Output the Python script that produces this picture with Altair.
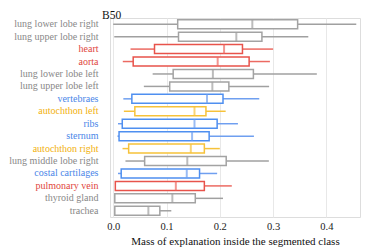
import altair as alt
import pandas as pd

names = ["lung lower lobe right", "lung upper lobe right", "heart", "aorta",
         "lung lower lobe left", "lung upper lobe left", "vertebraes", "autochthon left",
         "ribs", "sternum", "autochthon right", "lung middle lobe right",
         "costal cartilages", "pulmonary vein", "thyroid gland", "trachea"]
groups = ["gray", "gray", "red", "red", "gray", "gray", "blue", "yellow",
          "blue", "blue", "yellow", "gray", "blue", "red", "gray", "gray"]
low = [0.000, 0.002, 0.0325, 0.018, 0.074, 0.0575, 0.019, 0.020,
       0.009, 0.008, 0.0175, 0.023, 0.009, 0.004, 0.003, 0.003]
q1 = [0.121, 0.1225, 0.0775, 0.0375, 0.1125, 0.106, 0.035, 0.0406,
      0.017, 0.011, 0.029, 0.059, 0.015, 0.004, 0.003, 0.003]
med = [0.261, 0.231, 0.208, 0.196, 0.187, 0.186, 0.176, 0.1525,
       0.1525, 0.148, 0.1456, 0.139, 0.138, 0.1175, 0.111, 0.066]
q3 = [0.346, 0.279, 0.2425, 0.255, 0.263, 0.217, 0.206, 0.174,
      0.195, 0.180, 0.171, 0.212, 0.162, 0.171, 0.154, 0.0875]
high = [0.456, 0.366, 0.300, 0.294, 0.382, 0.2925, 0.274, 0.211,
        0.234, 0.264, 0.200, 0.292, 0.195, 0.2225, 0.206, 0.109]
grid_vals = [0.0, 0.05, 0.1, 0.15, 0.2, 0.25, 0.3, 0.35, 0.4, 0.45]

df = pd.DataFrame({"name": names, "group": groups, "low": low, "q1": q1,
                   "med": med, "q3": q3, "high": high})

grp_dom = ["gray", "red", "blue", "yellow"]
box_col = ["#a3a3a3", "#e8534b", "#4f8ff0", "#f6c23a"]
whisk_col = ["#a0a0a0", "#ec6a62", "#6f9ff0", "#f6c23a"]
med_col = ["#8a8a8a", "#d93a33", "#3a7be6", "#eeb414"]
lab_col = {"red": "#e0463d", "blue": "#4a86e8", "yellow": "#f2b10e"}

FONT = "Liberation Serif, DejaVu Serif, serif"

def test_for(g):
    lst = ",".join("'" + n + "'" for n, gg in zip(names, groups) if gg == g)
    return f"indexof([{lst}], datum.value) >= 0"

label_color = {
    "condition": [{"test": test_for(g), "value": c} for g, c in lab_col.items()],
    "value": "#888888",
}

yenc = alt.Y("name:N", sort=names, title=None,
             scale=alt.Scale(paddingInner=0, paddingOuter=0),
             axis=alt.Axis(ticks=False, domain=False, grid=False, labelFont=FONT,
                           labelFontSize=10, labelPadding=12, labelColor=label_color,
                           labelLimit=200))
xscale = alt.Scale(domain=[-0.006, 0.463], nice=False, zero=False)
xenc = alt.X("low:Q", scale=xscale, title="Mass of explanation inside the segmented class",
             axis=alt.Axis(values=grid_vals, ticks=False, domain=False, gridColor="#e8e8e8",
                           labelExpr="abs(datum.value*10 - round(datum.value*10)) < 0.001 ? format(datum.value, '.1f') : ''",
                           labelFont=FONT, labelFontSize=10.5, labelColor="#222222",
                           labelPadding=4, titleFont=FONT, titleFontSize=11,
                           titleFontWeight="normal", titleColor="#111111", titlePadding=4))

base = alt.Chart(df)
wcol = alt.Color("group:N", scale=alt.Scale(domain=grp_dom, range=whisk_col), legend=None)
bcol = alt.Color("group:N", scale=alt.Scale(domain=grp_dom, range=box_col), legend=None)
mcol = alt.Color("group:N", scale=alt.Scale(domain=grp_dom, range=med_col), legend=None)

w1 = base.mark_rule(strokeWidth=1.5).encode(x=xenc, x2="q1:Q", y=yenc, color=wcol)
w2 = base.mark_rule(strokeWidth=1.5).encode(x=alt.X("q3:Q", scale=xscale), x2="high:Q", y=yenc, color=wcol)
box = base.mark_bar(size=9, fill="white", strokeWidth=1.5).encode(
    x=alt.X("q1:Q", scale=xscale), x2="q3:Q", y=yenc, stroke=bcol)
medm = base.mark_tick(size=9, thickness=2).encode(
    x=alt.X("med:Q", scale=xscale), y=yenc, color=mcol)

chart = alt.layer(w1, w2, box, medm).properties(
    width=250, height=199,
    title=alt.TitleParams("B50", anchor="start", frame="group", font=FONT, fontSize=11.5,
                          fontWeight="normal", color="#111111", offset=0, dy=3, dx=-8),
    autosize=alt.AutoSizeParams(type="none"),
    padding={"left": 102, "top": 10, "right": 6, "bottom": 32},
    background="white",
).configure_view(stroke=None).configure(font=FONT)

chart.save("out.html", embed_options={"renderer": "svg", "actions": False})
